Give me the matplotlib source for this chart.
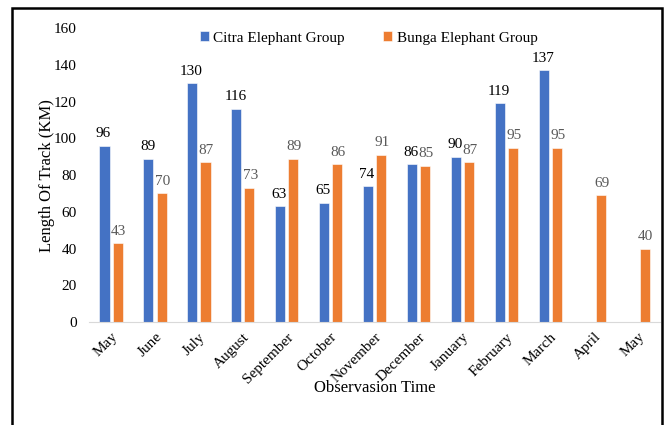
import numpy as np
import matplotlib.pyplot as plt
from matplotlib.patches import Rectangle

# data
months = ["May", "June", "July", "August", "September", "October", "November",
          "December", "January", "February", "March", "April", "May"]
citra = [96, 89, 130, 116, 63, 65, 74, 86, 90, 119, 137, np.nan, np.nan]
bunga = [43, 70, 87, 73, 89, 86, 91, 85, 87, 95, 95, 69, 40]

blue = "#4472C4"
orange = "#ED7D31"

plt.rcParams['font.family'] = ['Liberation Serif', 'DejaVu Serif']

fig = plt.figure(figsize=(6.7, 4.25), dpi=100)
ax = fig.add_axes([0.133, 0.242, 0.852, 0.692])

x = np.arange(len(months))
w = 0.23
off = 0.15

ax.bar(x - off, citra, w, color=blue, edgecolor="white", linewidth=0.4,
       label="Citra Elephant Group")
ax.bar(x + off, bunga, w, color=orange, edgecolor="white", linewidth=0.4,
       label="Bunga Elephant Group")

# value labels
for xi, v in zip(x, citra):
    if not np.isnan(v):
        ax.text(xi - off - 0.02, v + 3, str(int(v)), ha="center", va="bottom",
                fontsize=11, color="black")
for xi, v in zip(x, bunga):
    ax.text(xi + off + 0.02, v + 3, str(int(v)), ha="center", va="bottom",
            fontsize=11, color="#595959")

ax.set_xlim(-0.5, len(months) - 0.5)
ax.set_ylim(0, 160)
ax.set_yticks(np.arange(0, 161, 20))
ax.set_xticks(x)
ax.set_xticklabels(months, rotation=45, ha="right", rotation_mode="anchor")
ax.tick_params(axis="both", length=0, labelsize=11)
ax.tick_params(axis="x", pad=6)
ax.tick_params(axis="y", pad=9)

for s in ["top", "right", "left"]:
    ax.spines[s].set_visible(False)
ax.spines["bottom"].set_color("#D9D9D9")

ax.set_ylabel("Length Of Track (KM)", fontsize=12, labelpad=-1)
ax.set_xlabel("Observasion Time", fontsize=12, labelpad=-4)

ax.legend(loc="center", bbox_to_anchor=(0.49, 0.966), ncol=2, frameon=False,
          fontsize=11, handlelength=0.6, handleheight=0.6, columnspacing=2.5,
          handletextpad=0.3)

# outer border box
fig.patches.append(Rectangle((0.018, -0.05), 0.97, 1.031, transform=fig.transFigure,
                             fill=False, edgecolor="black", linewidth=1.8))

fig.savefig("out.png", dpi=100)
